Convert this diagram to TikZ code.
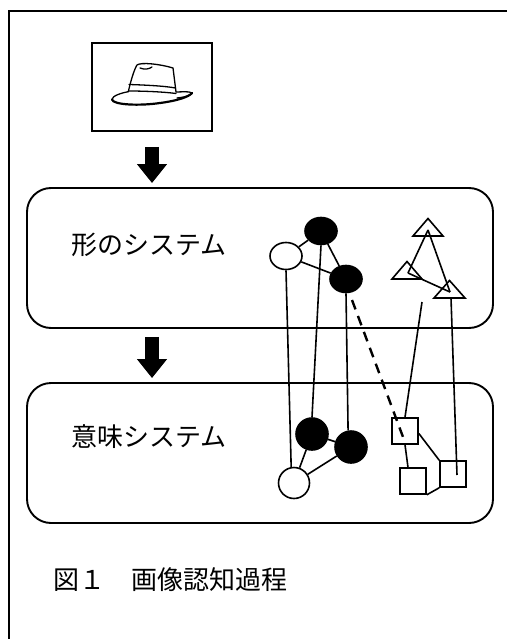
\documentclass[tikz,border=0pt]{standalone}
\usepackage{fontspec}
\newfontfamily\jp{Noto Sans CJK JP}
\usetikzlibrary{shapes.geometric,arrows.meta,calc}
\begin{document}
\begin{tikzpicture}[x=1pt,y=-1pt,
  frame/.style={line width=2pt},
  panel/.style={draw, line width=1.9pt, rounded corners=24pt, minimum width=466pt, minimum height=140pt, inner sep=0pt},
  picbox/.style={draw, line width=2pt, minimum width=120pt, minimum height=88pt, inner sep=0pt},
  bigarrow/.style={line width=14pt, -{Triangle[width=29pt,length=19pt]}},
  label/.style={anchor=west, inner sep=0pt, font=\jp\fontsize{26}{30}\selectfont},
  link/.style={line width=1.6pt},
  hatline/.style={line width=1.3pt, line cap=round, line join=round},
  spot/.style={ellipse, draw, line width=1.6pt, inner sep=0pt, minimum width=32pt, minimum height=27pt},
  hollow/.style={spot, fill=white},
  solid/.style={spot, fill=black},
  ring/.style={circle, draw, line width=1.6pt, inner sep=0pt, minimum size=31pt, fill=white},
  disc/.style={circle, draw, line width=1.6pt, inner sep=0pt, minimum size=32pt, fill=black},
  sq/.style={rectangle, draw, line width=1.6pt, inner sep=0pt, minimum size=26pt},
  tri/.style={line width=1.6pt, line join=miter},
]
\useasboundingbox (0,0) rectangle (507,639);

% outer frame, open to the right and below
\draw[frame] (8.5,639) -- (8.5,11.5) -- (507,11.5);

% input image with a hat
\node[picbox] (img) at (152,87) {};
\begin{scope}[hatline]
  % crown
  \draw (128.3,91.7) .. controls (131,80) and (134,70) .. (137,65)
        .. controls (141,62) and (160,64) .. (173,68)
        .. controls (174,76) and (175,84) .. (176,92);
  \draw (140,68) .. controls (145,70) and (149,69) .. (152,67);
  % band
  \draw (129,84.5) .. controls (145,85) and (165,86) .. (175.5,88);
  \draw (128.5,91) .. controls (145,91) and (165,92) .. (176,93.5);
  % brim
  \draw (128.3,91.7) .. controls (121,93) and (112,96) .. (112,99.5);
  \draw[line width=2.2pt] (112,99.5) .. controls (113,105) and (140,106) .. (160,103)
        .. controls (176,101) and (189,97) .. (192,93);
  \draw (176,92) .. controls (182,92) and (189,91) .. (192,93);
  \draw (177,98) .. controls (182,97.5) and (187,96.5) .. (190,95);
\end{scope}

% the two systems
\node[panel] (shape) at (260,258) {};
\node[panel] (sense) at (260,453) {};
\node[label] (shapetxt) at (71,245) {形のシステム};
\node[label] (sensetxt) at (71,437) {意味システム};

% flow arrows, straight down below the image
\draw[bigarrow] ($(img.south)+(0,15)$) -- ($(img.south |- shape.north)+(0,-4)$);
\draw[bigarrow] ($(img.south |- shape.south)+(0,8)$) -- ($(img.south |- sense.north)+(0,-4)$);

% shape units
\node[hollow] (o1) at (286,256) {};
\node[solid] (b1) at (321,231) {};
\node[solid] (b2) at (346,279) {};
\draw[link] (o1) -- (b1);
\draw[link] (o1) -- (b2);
\draw[link] (b1) -- (b2);

% meaning units (circles)
\node[ring] (w) at (294,483) {};
\node[disc] (k1) at (312,434) {};
\node[disc] (k2) at (351,447) {};
\draw[link] (w) -- (k1);
\draw[link] (w) -- (k2);
\draw[link] (k1) -- (k2);

% links between the layers
\draw[link] (o1.south) -- (w.100);
\draw[link] (b1.south) -- (k1.north);
\draw[link] (b2.south) -- (k2.100);

% triangles
\coordinate (t1) at (428,230);
\coordinate (t2) at (408,273);
\coordinate (t3) at (450,292);
\draw[tri] (413,236) -- (443,236) -- (428,218.5) -- cycle;
\draw[tri] (392,279) -- (422,279) -- (407,261.5) -- cycle;
\draw[tri] (434,298) -- (465,298) -- (449.5,280.5) -- cycle;
\draw[link] (t1) -- (t2);
\draw[link] (t1) -- (t3);
\draw[link] (t2) -- (t3);

% squares
\node[sq] (s1) at (405,431) {};
\node[sq] (s2) at (413,481) {};
\node[sq] (s3) at (453,474) {};
\draw[link] (s1.south) -- (s2.110);
\draw[link] (s1.-10) -- (s3.north west);
\draw[link] (s2.south east) -- (s3.south west);

% links from triangles to squares
\coordinate (tf) at (422,302);
\coordinate (t3b) at (451,298);
\draw[link] (tf) -- (s1.north);
\draw[link] (t3b) -- ($(s3.center)+(4,1)$);

% cross link
\draw[line width=2.4pt, dash pattern=on 10pt off 7pt] (b2) ++(6,21) coordinate (dstart) -- ($(s1.center)+(-2,6)$);

% caption
\node[label] (cap) at (53,580) {図１　画像認知過程};
\end{tikzpicture}
\end{document}
